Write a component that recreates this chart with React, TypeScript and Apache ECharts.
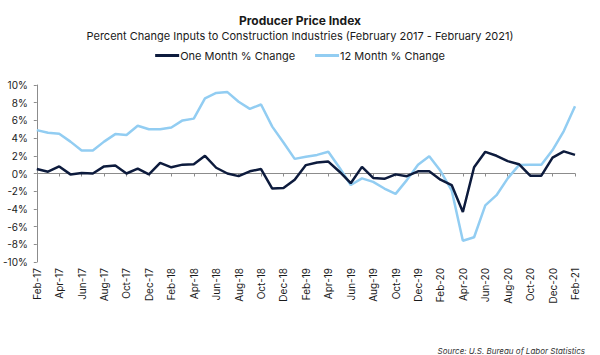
import React, { useEffect, useRef } from "react";
import * as echarts from "echarts";

const months = [
  "Feb-17","Mar-17","Apr-17","May-17","Jun-17","Jul-17","Aug-17","Sep-17","Oct-17","Nov-17","Dec-17","Jan-18",
  "Feb-18","Mar-18","Apr-18","May-18","Jun-18","Jul-18","Aug-18","Sep-18","Oct-18","Nov-18","Dec-18","Jan-19",
  "Feb-19","Mar-19","Apr-19","May-19","Jun-19","Jul-19","Aug-19","Sep-19","Oct-19","Nov-19","Dec-19","Jan-20",
  "Feb-20","Mar-20","Apr-20","May-20","Jun-20","Jul-20","Aug-20","Sep-20","Oct-20","Nov-20","Dec-20","Jan-21",
  "Feb-21",
];

const oneMonth = [
  0.5, 0.2, 0.8, -0.1, 0.05, 0.0, 0.8, 0.9, 0.0, 0.55, -0.1, 1.2,
  0.7, 1.0, 1.05, 2.0, 0.65, 0.0, -0.3, 0.25, 0.5, -1.7, -1.65, -0.7,
  0.95, 1.25, 1.35, 0.2, -1.1, 0.75, -0.5, -0.6, -0.1, -0.3, 0.25, 0.25,
  -0.7, -1.3, -4.35, 0.7, 2.45, 2.0, 1.4, 1.05, -0.25, -0.25, 1.8, 2.5,
  2.1,
];

const twelveMonth = [
  4.9, 4.6, 4.5, 3.6, 2.6, 2.6, 3.6, 4.45, 4.35, 5.4, 5.0, 5.0,
  5.2, 6.0, 6.2, 8.5, 9.1, 9.2, 8.1, 7.3, 7.8, 5.3, 3.5, 1.65,
  1.9, 2.1, 2.45, 0.65, -1.3, -0.55, -0.95, -1.7, -2.3, -0.75, 1.0, 1.95,
  0.3, -1.9, -7.6, -7.2, -3.6, -2.45, -0.55, 0.95, 1.0, 1.0, 2.65, 4.8,
  7.6,
];

const seriesNames = ["One Month % Change", "12 Month % Change"];
const FONT = "Inter, 'Noto Sans', sans-serif";

export default function App() {
  const ref = useRef<HTMLDivElement>(null);
  useEffect(() => {
    if (!ref.current) return;
    const chart = echarts.init(ref.current, null, { renderer: "svg" });
    chart.setOption({
      animation: false,
      backgroundColor: "#ffffff",
      textStyle: { fontFamily: FONT },
      title: [
        {
          text: "Producer Price Index",
          left: "center",
          top: 9,
          textStyle: { fontFamily: FONT, fontSize: 12, fontWeight: "bold", color: "#1a1a1a" },
        },
        {
          text: "Percent Change Inputs to Construction Industries (February 2017 - February 2021)",
          left: "center",
          top: 25,
          textStyle: { fontFamily: FONT, fontSize: 11, fontWeight: "normal", color: "#1a1a1a" },
        },
        {
          text: "Source: U.S. Bureau of Labor Statistics",
          right: 10,
          top: 342,
          textStyle: { fontFamily: FONT, fontSize: 8, fontStyle: "italic", fontWeight: "normal", color: "#333" },
        },
      ],
      legend: {
        top: 45,
        left: "center",
        itemGap: 20,
        itemWidth: 24,
        itemHeight: 3,
        icon: "rect",
        textStyle: { fontFamily: FONT, fontSize: 11, color: "#1a1a1a", padding: [0, 0, 0, -4] },
        data: seriesNames,
      },
      grid: { left: 33, right: 25, top: 85, bottom: 93, containLabel: false },
      xAxis: [
        {
          type: "category",
          data: months,
          boundaryGap: false,
          axisLine: { onZero: true, lineStyle: { color: "#8c8c8c", width: 1 } },
          axisTick: { show: true, interval: 1, length: 3, lineStyle: { color: "#8c8c8c" } },
          axisLabel: { show: false },
          splitLine: { show: false },
        },
        {
          type: "category",
          data: months,
          boundaryGap: false,
          position: "bottom",
          axisLine: { show: false, onZero: false },
          axisTick: { show: false },
          axisLabel: {
            show: true,
            interval: 1,
            rotate: 90,
            margin: 6,
            fontFamily: FONT,
            fontSize: 10,
            color: "#1a1a1a",
          },
          splitLine: { show: false },
        },
      ],
      yAxis: {
        type: "value",
        min: -10,
        max: 10,
        interval: 2,
        axisLine: { show: true, lineStyle: { color: "#8c8c8c", width: 1 } },
        axisTick: { show: true, length: 3, lineStyle: { color: "#8c8c8c" } },
        axisLabel: {
          formatter: "{value}%",
          margin: 9,
          fontFamily: FONT,
          fontSize: 10,
          color: "#1a1a1a",
        },
        splitLine: { show: false },
      },
      series: [
        {
          name: seriesNames[0],
          type: "line",
          xAxisIndex: 0,
          data: oneMonth,
          showSymbol: false,
          symbol: "none",
          z: 3,
          lineStyle: { color: "#0d1b3d", width: 2.5 },
          itemStyle: { color: "#0d1b3d" },
        },
        {
          name: seriesNames[1],
          type: "line",
          xAxisIndex: 0,
          data: twelveMonth,
          showSymbol: false,
          symbol: "none",
          z: 2,
          lineStyle: { color: "#92cdf2", width: 2.5 },
          itemStyle: { color: "#92cdf2" },
        },
      ],
    });
    return () => chart.dispose();
  }, []);
  return <div ref={ref} style={{ width: 600, height: 355, position: "absolute", left: 0, top: 0 }} />;
}
